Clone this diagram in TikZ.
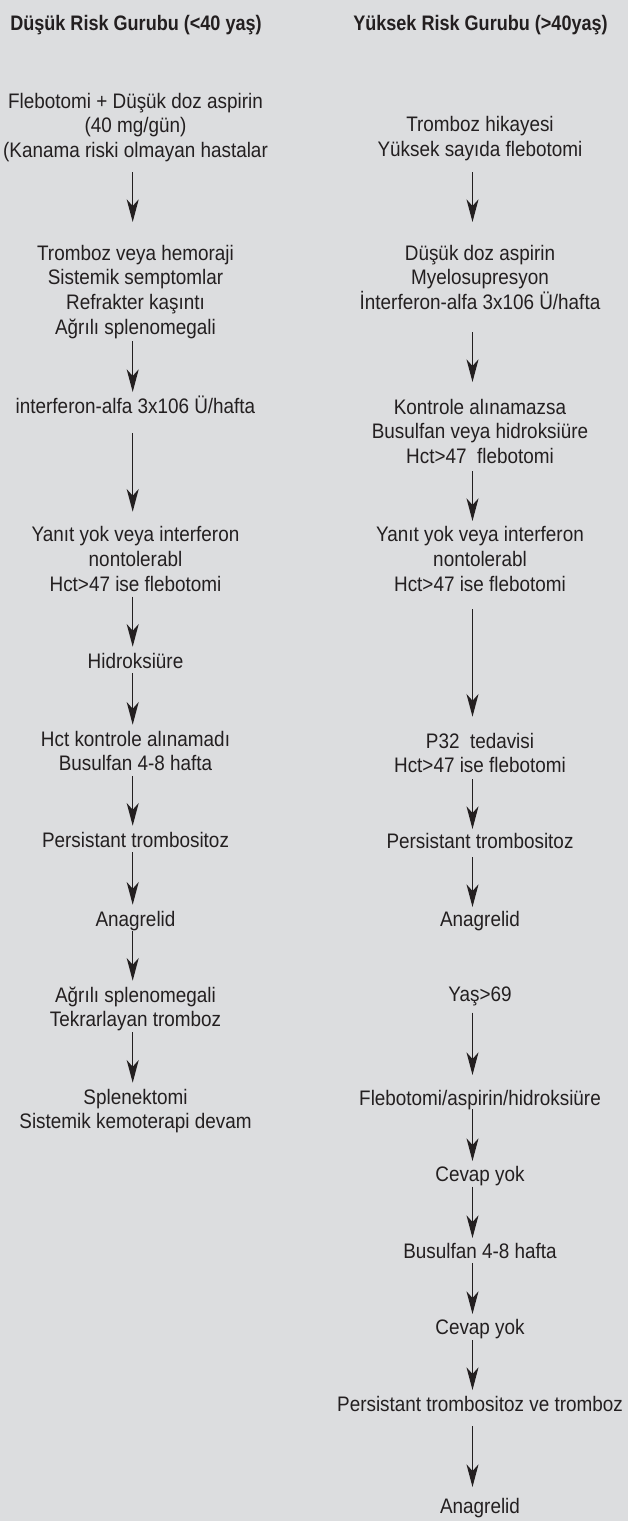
\documentclass[tikz,border=0pt]{standalone}
\usepackage{fontspec}
\setmainfont[FakeStretch=0.9]{Liberation Sans}
\newfontfamily\titlefont[FakeStretch=0.86]{Liberation Sans}
\usetikzlibrary{arrows.meta}
\definecolor{bg}{RGB}{220,221,223}
\definecolor{ink}{RGB}{35,31,32}
\newcommand\mytx[1]{\strut#1\strut}
\tikzset{
  txt/.style={inner sep=0pt, outer sep=0pt, align=center, anchor=north, text=ink,
    font=\fontsize{15.75pt}{18.525pt}\selectfont},
  ttl/.style={txt, font=\titlefont\bfseries\fontsize{15.75pt}{18.525pt}\selectfont},
  arr/.style={draw=ink, line width=1pt, -{Stealth[length=17pt,width=9pt,inset=5pt]},
    shorten <=-1.5pt, shorten >=3pt}
}
\begin{document}
\begin{tikzpicture}[x=0.75pt,y=-0.75pt]
\fill[bg] (0,0) rectangle (628,1521);
\useasboundingbox (0,0) rectangle (628,1521);
\coordinate (Lx) at (132.7,0);
\coordinate (Rx) at (472.5,0);
% left column
\node[ttl] (L0) at (136,12.71) {\mytx{Düşük Risk Gurubu (<40 yaş)}};
\node[txt] (L1) at (135.5,90.71) {\mytx{Flebotomi + Düşük doz aspirin\\(40 mg/gün)\\(Kanama riski olmayan hastalar}};
\node[txt] (L2) at (135.5,242.71) {\mytx{Tromboz veya hemoraji\\Sistemik semptomlar\\Refrakter kaşıntı\\Ağrılı splenomegali}};
\node[txt] (L3) at (135.5,395.71) {\mytx{interferon-alfa 3x106 Ü/hafta}};
\node[txt] (L4) at (135.5,524.41) {\mytx{Yanıt yok veya interferon\\nontolerabl\\Hct>47 ise flebotomi}};
\node[txt] (L5) at (135.5,650.71) {\mytx{Hidroksiüre}};
\node[txt] (L6) at (135.5,728.71) {\mytx{Hct kontrole alınamadı\\Busulfan 4-8 hafta}};
\node[txt] (L7) at (135.5,829.71) {\mytx{Persistant trombositoz}};
\node[txt] (L8) at (135.5,908.71) {\mytx{Anagrelid}};
\node[txt] (L9) at (135.5,984.71) {\mytx{Ağrılı splenomegali\\Tekrarlayan tromboz}};
\node[txt] (L10) at (135.5,1086.71) {\mytx{Splenektomi\\Sistemik kemoterapi devam}};
% right column
\node[ttl] (R0) at (480.5,12.71) {\mytx{Yüksek Risk Gurubu (>40yaş)}};
\node[txt] (R1) at (480,114.41) {\mytx{Tromboz hikayesi\\Yüksek sayıda flebotomi}};
\node[txt] (R2) at (480,242.71) {\mytx{Düşük doz aspirin\\Myelosupresyon\\İnterferon-alfa 3x106 Ü/hafta}};
\node[txt] (R3) at (480,396.71) {\mytx{Kontrole alınamazsa\\Busulfan veya hidroksiüre\\Hct>47~ flebotomi}};
\node[txt] (R4) at (480,524.41) {\mytx{Yanıt yok veya interferon\\nontolerabl\\Hct>47 ise flebotomi}};
\node[txt] (R5) at (480,730.71) {\mytx{P32~ tedavisi\\Hct>47 ise flebotomi}};
\node[txt] (R6) at (480,830.71) {\mytx{Persistant trombositoz}};
\node[txt] (R7) at (480,908.71) {\mytx{Anagrelid}};
\node[txt] (R8) at (480,983.71) {\mytx{Yaş>69}};
\node[txt] (R9) at (480,1087.71) {\mytx{Flebotomi/aspirin/hidroksiüre}};
\node[txt] (R10) at (480,1164.41) {\mytx{Cevap yok}};
\node[txt] (R11) at (480,1240.71) {\mytx{Busulfan 4-8 hafta}};
\node[txt] (R12) at (480,1317.21) {\mytx{Cevap yok}};
\node[txt] (R13) at (480,1393.71) {\mytx{Persistant trombositoz ve tromboz}};
\node[txt] (R14) at (480,1495.71) {\mytx{Anagrelid}};
% left arrows
\draw[arr, shorten <=5.39pt, shorten >=15.53pt] (L1.south -| Lx) -- (L2.north -| Lx);
\draw[arr, shorten <=-0.38pt, shorten >=2.78pt] (L2.south -| Lx) -- (L3.north -| Lx);
\draw[arr, shorten <=9.44pt, shorten >=9.53pt] (L3.south -| Lx) -- (L4.north -| Lx);
\draw[arr] (L4.south -| Lx) -- (L5.north -| Lx);
\draw[arr] (L5.south -| Lx) -- (L6.north -| Lx);
\draw[arr] (L6.south -| Lx) -- (L7.north -| Lx);
\draw[arr] (L7.south -| Lx) -- (L8.north -| Lx);
\draw[arr] (L8.south -| Lx) -- (L9.north -| Lx);
\draw[arr] (L9.south -| Lx) -- (L10.north -| Lx);
% right arrows
\draw[arr, shorten <=6.14pt, shorten >=15.53pt] (R1.south -| Rx) -- (R2.north -| Rx);
\draw[arr, shorten <=11.39pt, shorten >=11.03pt] (R2.south -| Rx) -- (R3.north -| Rx);
\draw[arr, shorten <=0.14pt, shorten >=2.56pt] (R3.south -| Rx) -- (R4.north -| Rx);
\draw[arr, shorten <=7.87pt, shorten >=10.51pt] (R4.south -| Rx) -- (R5.north -| Rx);
\draw[arr, shorten <=-0.83pt, shorten >=1.28pt] (R5.south -| Rx) -- (R6.north -| Rx);
\draw[arr, shorten <=1.19pt, shorten >=1.28pt] (R6.south -| Rx) -- (R7.north -| Rx);
\draw[arr, shorten <=3.22pt, shorten >=9.53pt] (R8.south -| Rx) -- (R9.north -| Rx);
\draw[arr, shorten <=-2.56pt, shorten >=2.56pt] (R9.south -| Rx) -- (R10.north -| Rx);
\draw[arr, shorten <=-1.81pt, shorten >=2.03pt] (R10.south -| Rx) -- (R11.north -| Rx);
\draw[arr, shorten <=-1.81pt, shorten >=2.41pt] (R11.south -| Rx) -- (R12.north -| Rx);
\draw[arr, shorten <=-1.43pt, shorten >=2.78pt] (R12.south -| Rx) -- (R13.north -| Rx);
\draw[arr, shorten <=5.69pt, shorten >=6.53pt] (R13.south -| Rx) -- (R14.north -| Rx);
\end{tikzpicture}
\end{document}
